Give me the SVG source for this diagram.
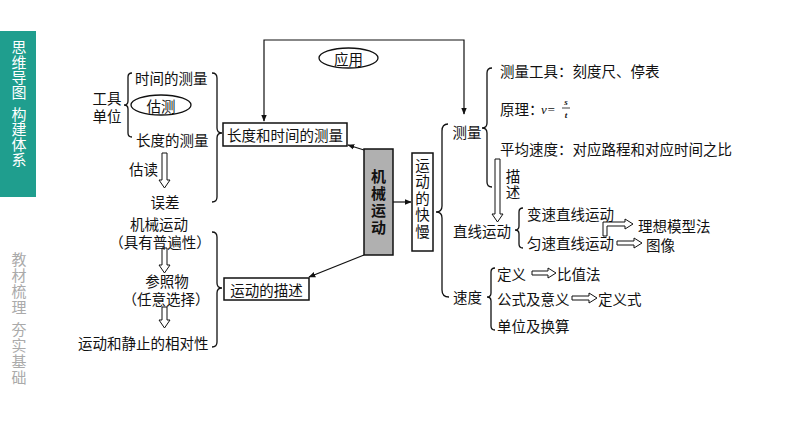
<svg xmlns="http://www.w3.org/2000/svg" width="794" height="447" viewBox="0 0 794 447" lang="zh-CN">
<defs>
<style>
text{font-family:"Noto Sans CJK SC","Noto Sans CJK TC",sans-serif;font-size:14.5px;fill:#111;dominant-baseline:central}
.c{text-anchor:middle}
.v{writing-mode:vertical-rl;text-anchor:middle}
.side{font-size:15px}
.br{fill:none;stroke:#111;stroke-width:1.3}
.ln{fill:none;stroke:#111;stroke-width:1.2}
.box{fill:#fff;stroke:#111;stroke-width:1.5}
.ha{fill:#fff;stroke:#111;stroke-width:1}
.m{font-family:"Liberation Serif",serif;font-style:italic}
</style>
<marker id="ah" viewBox="0 0 10 10" refX="9" refY="5" markerWidth="7" markerHeight="7" orient="auto-start-reverse" markerUnits="userSpaceOnUse">
<path d="M0,1 L10,5 L0,9 Z" fill="#111"/>
</marker>
</defs>
<rect width="794" height="447" fill="#fff"/>

<g id="sidebar">
<rect x="0" y="31" width="36" height="166" fill="#1f9e8e"/>
<text class="v side" x="19" y="70" style="fill:#fff">思维导图</text>
<text class="v side" x="19" y="137" style="fill:#fff">构建体系</text>
<text class="v side" x="19" y="284" style="fill:#aaa;letter-spacing:1px">教材梳理</text>
<text class="v side" x="19" y="354" style="fill:#aaa;letter-spacing:1px">夯实基础</text>
</g>

<g id="connectors">
<polyline class="ln" points="264,121 264,40 464,40 464,114" marker-start="url(#ah)" marker-end="url(#ah)"/>
<line class="ln" x1="364" y1="150" x2="348" y2="145" marker-end="url(#ah)"/>
<line class="ln" x1="393" y1="202" x2="411" y2="202" marker-end="url(#ah)"/>
<line class="ln" x1="364" y1="255" x2="309" y2="277" marker-end="url(#ah)"/>
<path class="br" d="M132,73 Q128,73 128,77 L128,101 Q128,105 124,105 Q128,105 128,109 L128,133 Q128,137 132,137"/>
<path class="br" d="M212,73 Q217,73 217,78 L217,128 Q217,133 222,133 Q217,133 217,138 L217,197 Q217,202 212,202"/>
<path class="br" d="M212,232 Q217,232 217,237 L217,283 Q217,288 222,288 Q217,288 217,293 L217,342 Q217,347 212,347"/>
<path class="br" d="M448,124 Q442,124 442,131 L442,206 Q442,212 436,212 Q442,212 442,218 L442,290 Q442,297 449,297"/>
<path class="br" d="M492,68 Q487,68 487,73 L487,123 Q487,128 482,128 Q487,128 487,133 L487,182 Q487,187 492,187"/>
<path class="br" d="M523,208 Q519,208 519,212 L519,226 Q519,230 515,230 Q519,230 519,234 L519,244 Q519,248 523,248"/>
<path class="br" d="M495,268 Q491,268 491,272 L491,293 Q491,297 487,297 Q491,297 491,301 L491,326 Q491,330 495,330"/>
<path class="ha" d="M162,153 L167,153 L167,180 L170,180 L164.5,188 L159,180 L162,180 Z"/>
<path class="ha" d="M162,248 L167,248 L167,265 L170,265 L164.5,273 L159,265 L162,265 Z"/>
<path class="ha" d="M162,307 L167,307 L167,320 L170,320 L164.5,328 L159,320 L162,320 Z"/>
<path class="ha" d="M495,159 L500,159 L500,214 L503,214 L497.5,222 L492,214 L495,214 Z"/>
<path class="ha" d="M603,236 L603,222 L625,222 L625,219 L633,224 L625,229 L625,226 L607,226 L607,236 Z"/>
<path class="ha" d="M617,241 L634,241 L634,238 L642,243 L634,248 L634,245 L617,245 Z"/>
<path class="ha" d="M532,271 L548,271 L548,268 L556,273 L548,278 L548,275 L532,275 Z"/>
<path class="ha" d="M572,296 L589,296 L589,293 L597,298 L589,303 L589,300 L572,300 Z"/>
</g>

<g id="node-center">
<rect x="364" y="149" width="29" height="106" fill="#b0b0b0" stroke="#111" stroke-width="1.5"/>
<text class="v" x="378.5" y="203" style="font-weight:bold;font-size:15px;letter-spacing:2px">机械运动</text>
</g>

<g id="node-speed">
<rect class="box" x="412" y="153" width="21" height="98"/>
<text class="v" x="422.5" y="199" style="letter-spacing:2px">运动的快慢</text>
</g>

<g id="node-measure">
<rect class="box" x="223" y="123" width="124" height="23"/>
<text class="c" x="285" y="134.5">长度和时间的测量</text>
</g>

<g id="node-describe">
<rect class="box" x="224" y="278" width="85" height="22"/>
<text class="c" x="266.5" y="289">运动的描述</text>
</g>

<g id="node-apply">
<ellipse cx="348.5" cy="58" rx="29.5" ry="10" fill="#fff" stroke="#111" stroke-width="1.3"/>
<text class="c" x="348.5" y="58">应用</text>
</g>

<g id="left-top">
<text class="c" x="107" y="97">工具</text>
<text class="c" x="107" y="115">单位</text>
<text x="135" y="77">时间的测量</text>
<ellipse cx="161" cy="105" rx="30" ry="10" fill="#fff" stroke="#111" stroke-width="1.3"/>
<text class="c" x="161" y="105">估测</text>
<text x="136" y="139">长度的测量</text>
<text x="129" y="168">估读</text>
<text class="c" x="165" y="201">误差</text>
</g>

<g id="left-bottom">
<text class="c" x="159" y="223">机械运动</text>
<text class="c" x="160" y="241">（具有普遍性）</text>
<text class="c" x="167" y="280">参照物</text>
<text class="c" x="166" y="298">（任意选择）</text>
<text x="78" y="342">运动和静止的相对性</text>
</g>

<g id="right-measure">
<text class="c" x="467" y="131">测量</text>
<text x="500" y="70">测量工具：刻度尺、停表</text>
<text x="500" y="108">原理：</text>
<text class="m" x="541" y="109" style="font-size:13px">v=</text>
<text class="m c" x="566" y="102" style="font-weight:bold;font-size:9px">s</text>
<line x1="562" y1="108" x2="570" y2="108" stroke="#111" stroke-width="0.8"/>
<text class="m c" x="566" y="115" style="font-weight:bold;font-size:9px">t</text>
<text x="500" y="148">平均速度：对应路程和对应时间之比</text>
<text class="v" x="513" y="185" style="letter-spacing:1.5px">描述</text>
</g>

<g id="right-line">
<text x="453" y="230">直线运动</text>
<text x="527" y="213">变速直线运动</text>
<text x="527" y="242">匀速直线运动</text>
<text x="638" y="225">理想模型法</text>
<text x="646" y="244">图像</text>
</g>

<g id="right-speed">
<text x="453" y="296">速度</text>
<text x="497" y="273">定义</text>
<text x="557" y="273">比值法</text>
<text x="497" y="298">公式及意义</text>
<text x="598" y="298">定义式</text>
<text x="497" y="325">单位及换算</text>
</g>
</svg>
